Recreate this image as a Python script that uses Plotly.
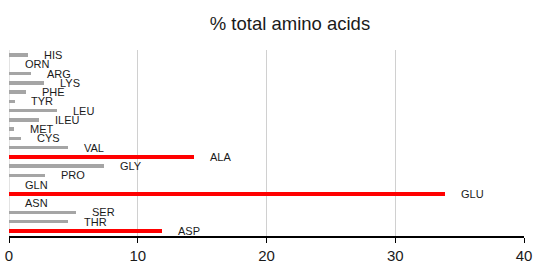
import plotly.graph_objects as go

# bottom to top order
categories = ["ASP", "THR", "SER", "ASN", "GLU", "GLN", "PRO", "GLY", "ALA", "VAL",
              "CYS", "MET", "ILEU", "LEU", "TYR", "PHE", "LYS", "ARG", "ORN", "HIS"]
values = [11.9, 4.6, 5.2, 0.0, 33.9, 0.0, 2.8, 7.4, 14.4, 4.6,
          0.9, 0.4, 2.3, 3.7, 0.5, 1.3, 2.7, 1.7, 0.0, 1.5]
highlight = ["ASP", "GLU", "ALA"]
x_ticks = [0, 10, 20, 30, 40]

colors = ["#FF0000" if c in highlight else "#A5A5A5" for c in categories]
widths = [0.42 if c in highlight else 0.36 for c in categories]

fig = go.Figure()
fig.add_trace(go.Bar(
    x=values, y=list(range(len(categories))), orientation="h",
    marker=dict(color=colors, line=dict(width=0)), width=widths,
    hoverinfo="skip", showlegend=False,
))

for i, (c, v) in enumerate(zip(categories, values)):
    fig.add_annotation(x=v, y=i, text=c, showarrow=False, xanchor="left",
                       yanchor="middle", xshift=14,
                       font=dict(family="Liberation Sans", size=11, color="#1a1a1a"))

fig.update_layout(
    width=534, height=263,
    margin=dict(l=9, r=10, t=50, b=27, autoexpand=False),
    paper_bgcolor="white", plot_bgcolor="white",
    title=dict(text="% total amino acids", x=0.543, xanchor="center", y=0.91, yanchor="middle",
               font=dict(family="Liberation Sans", size=18.5, color="#1a1a1a")),
    bargap=0,
)
fig.update_xaxes(range=[0, 40], tickvals=x_ticks, showgrid=True, automargin=False,
                 gridcolor="#D0D0D0", gridwidth=1, showline=True, linecolor="black",
                 linewidth=2, ticks="outside", ticklen=5, tickcolor="black", tickwidth=1,
                 zeroline=False,
                 tickfont=dict(family="Liberation Sans", size=15, color="#1a1a1a"))
fig.update_yaxes(range=[-0.55, 19.55], showticklabels=False, showgrid=False, automargin=False,
                 zeroline=False, showline=False, ticks="")
fig.add_shape(type="line", xref="x", yref="paper", x0=0, x1=0, y0=0, y1=1,
              line=dict(color="#C8C8C8", width=1), layer="below")

fig.write_html("out.html", config={"displayModeBar": False},
               post_script="document.body.style.margin='0';")
